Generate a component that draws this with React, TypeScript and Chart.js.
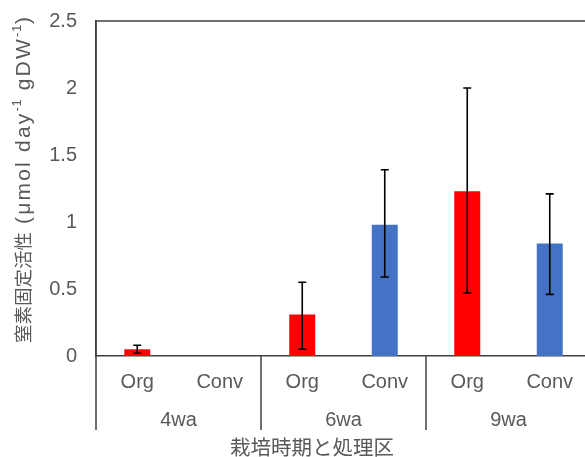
import React, { useEffect, useRef } from "react";
import { Chart, registerables } from "chart.js";

Chart.register(...registerables);

const categories = ["Org", "Conv", "Org", "Conv", "Org", "Conv"];
const groups = ["4wa", "6wa", "9wa"];
const values = [0.05, 0, 0.31, 0.98, 1.23, 0.84];
const errLow = [0.02, 0, 0.05, 0.59, 0.47, 0.46];
const errHigh = [0.08, 0, 0.55, 1.39, 2.0, 1.21];
const barColors = ["#FF0000", "#4472C4", "#FF0000", "#4472C4", "#FF0000", "#4472C4"];
// y title parts: [text, kind]  kind: c = CJK, l = latin, s = superscript
const yTitleParts: [string, string][] = [
  ["窒素固定活性", "c"],
  [" (μmol day", "l"],
  ["-1", "s"],
  [" gDW", "l"],
  ["-1", "s"],
  [")", "l"],
];
const xTitle = "栽培時期と処理区";

const FONT = "'Liberation Sans', Arial, 'Noto Sans CJK JP', sans-serif";
const TEXT = "#595959";
const LINE = "#404040";

export default function App() {
  const ref = useRef<HTMLCanvasElement | null>(null);
  useEffect(() => {
    const canvas = ref.current;
    if (!canvas) return;
    const extras = {
      id: "extras",
      afterDatasetsDraw(chart: any) {
        const ctx = chart.ctx;
        const ys = chart.scales.y;
        const meta = chart.getDatasetMeta(0);
        ctx.save();
        ctx.strokeStyle = "#000";
        ctx.lineWidth = 1.6;
        meta.data.forEach((bar: any, i: number) => {
          if (errHigh[i] === errLow[i]) return;
          const x = bar.x;
          const yt = ys.getPixelForValue(errHigh[i]);
          const yb = ys.getPixelForValue(errLow[i]);
          ctx.beginPath();
          ctx.moveTo(x, yt);
          ctx.lineTo(x, yb);
          ctx.moveTo(x - 4, yt);
          ctx.lineTo(x + 4, yt);
          ctx.moveTo(x - 4, yb);
          ctx.lineTo(x + 4, yb);
          ctx.stroke();
        });
        ctx.restore();
      },
      afterDraw(chart: any) {
        const ctx = chart.ctx;
        const area = chart.chartArea;
        const xs = chart.scales.x;
        ctx.save();
        ctx.strokeStyle = LINE;
        ctx.lineWidth = 1.5;
        ctx.beginPath();
        ctx.moveTo(area.left, area.top);
        ctx.lineTo(area.right, area.top);
        ctx.stroke();
        ctx.beginPath();
        ctx.moveTo(area.left, area.top);
        ctx.lineTo(area.left, area.bottom + 74);
        ctx.stroke();
        const step = (area.right - area.left) / categories.length;
        for (let g = 1; g <= groups.length; g++) {
          const x = area.left + g * 2 * step;
          ctx.beginPath();
          ctx.moveTo(x, area.bottom);
          ctx.lineTo(x, area.bottom + 74);
          ctx.stroke();
        }
        ctx.fillStyle = TEXT;
        ctx.textAlign = "center";
        ctx.textBaseline = "middle";
        ctx.font = `20px ${FONT}`;
        groups.forEach((g, i) => {
          const x = (xs.getPixelForValue(i * 2) + xs.getPixelForValue(i * 2 + 1)) / 2;
          ctx.fillText(g, x, area.bottom + 64);
        });
        ctx.font = `20.5px ${FONT}`;
        ctx.fillText(xTitle, 312, area.bottom + 93);
        // y title, rotated, drawn part by part
        ctx.translate(23, 343);
        ctx.rotate(-Math.PI / 2);
        ctx.textAlign = "left";
        ctx.textBaseline = "alphabetic";
        let cx = 0;
        const anyCtx = ctx as any;
        yTitleParts.forEach(([t, k]) => {
          let dy = 7;
          if (k === "c") {
            ctx.font = `18.5px ${FONT}`;
            anyCtx.letterSpacing = "0px";
          } else if (k === "l") {
            ctx.font = `21px ${FONT}`;
            anyCtx.letterSpacing = "2.2px";
          } else {
            ctx.font = `13px ${FONT}`;
            anyCtx.letterSpacing = "0.8px";
            dy = -2;
          }
          ctx.fillText(t, cx, dy);
          cx += ctx.measureText(t).width;
        });
        ctx.restore();
      },
    };
    const chart = new Chart(canvas, {
      type: "bar",
      data: {
        labels: categories,
        datasets: [
          {
            data: values,
            backgroundColor: barColors,
            barPercentage: 0.315,
            categoryPercentage: 1,
          },
        ],
      },
      options: {
        animation: false,
        responsive: false,
        layout: { padding: { top: 21, right: 4, left: 0, bottom: 0 } },
        plugins: { legend: { display: false }, tooltip: { enabled: false } },
        scales: {
          x: {
            grid: { display: false, drawTicks: false },
            border: { display: true, color: LINE, width: 1.5 },
            ticks: { color: TEXT, font: { family: FONT, size: 20 }, padding: 14, maxRotation: 0 },
            afterFit: (s: any) => {
              s.height = 101;
            },
          },
          y: {
            min: 0,
            max: 2.5,
            grid: { display: false, drawTicks: false },
            border: { display: true, color: LINE, width: 1.5 },
            ticks: {
              stepSize: 0.5,
              color: TEXT,
              font: { family: FONT, size: 20 },
              padding: 19,
              callback: (v: any) => String(v),
            },
            afterFit: (s: any) => {
              s.width = 96;
              s.paddingTop = 0;
              s.paddingBottom = 0;
            },
          },
        },
      },
      plugins: [extras],
    });
    return () => chart.destroy();
  }, []);
  return (
    <div style={{ position: "fixed", left: 0, top: 0, width: 595, height: 457, overflow: "hidden", background: "#fff" }}>
      <canvas ref={ref} width={595} height={457} style={{ display: "block" }} />
    </div>
  );
}
